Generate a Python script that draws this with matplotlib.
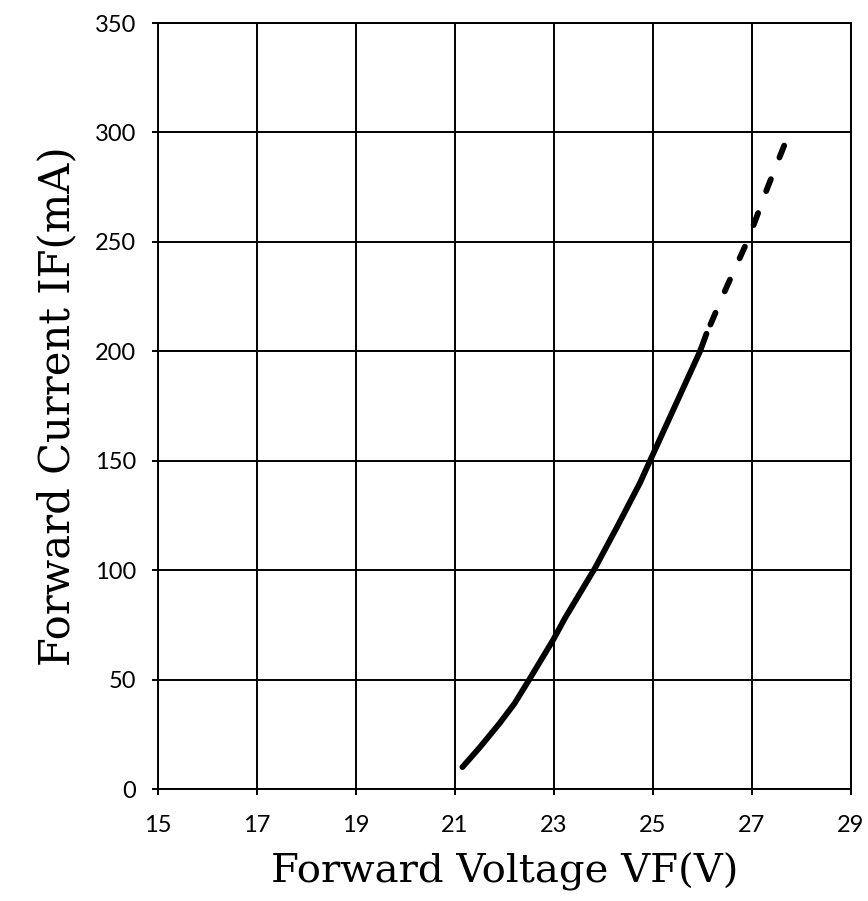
import matplotlib.pyplot as plt

# forward voltage / current curve
vf_solid = [21.15, 21.5, 21.9, 22.2, 22.5, 22.98, 23.22, 23.83, 24.28, 24.74, 24.94, 25.95, 26.08]
if_solid = [10, 19, 30, 39, 50, 68, 78, 101, 120, 140, 150, 200, 208]
# dashed extrapolation, listed from the top end down
vf_dash = [27.65, 27.3, 26.94, 26.5, 26.08]
if_dash = [294, 274, 252, 230, 208]

x_ticks = [15, 17, 19, 21, 23, 25, 27, 29]
y_ticks = [0, 50, 100, 150, 200, 250, 300, 350]

fig = plt.figure(figsize=(8.68, 9.01), dpi=100)
ax = fig.add_axes([158 / 868, 1 - 789 / 901, (851 - 158) / 868, (789 - 23) / 901])

ax.plot(vf_solid, if_solid, color='black', lw=4.2, solid_capstyle='round',
        solid_joinstyle='round', zorder=3)
ax.plot(vf_dash, if_dash, color='black', lw=4.2, dashes=[2.2, 4.0],
        dash_capstyle='round', zorder=3)

ax.set_xlim(15, 29)
ax.set_ylim(0, 350)
ax.set_xticks(x_ticks)
ax.set_yticks(y_ticks)
ax.grid(True, color='black', lw=1.4)
for s in ax.spines.values():
    s.set_linewidth(1.4)
    s.set_color('black')

ax.tick_params(direction='out', length=4.5, width=1.4, color='black',
               labelsize=17)
ax.tick_params(axis='y', pad=11)
ax.tick_params(axis='x', pad=14)
for lab in ax.get_xticklabels() + ax.get_yticklabels():
    lab.set_family('Lato')

ax.set_xlabel('Forward Voltage VF(V)', family='DejaVu Serif', fontsize=29, labelpad=12)
ax.set_ylabel('Forward Current IF(mA)', family='DejaVu Serif', fontsize=30, labelpad=12)

fig.savefig('out.png', dpi=100)
